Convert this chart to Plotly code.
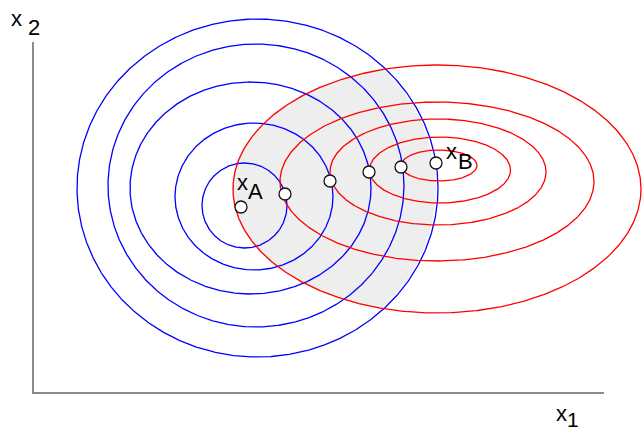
import numpy as np
import plotly.graph_objects as go

# Indifference curves of consumer A (blue): centre x, centre y, half-width, half-height
blue_cx = [211.5, 221.0, 217.5, 223.0, 224.5]
blue_cy = [187.5, 196.5, 205.0, 207.5, 205.0]
blue_rx = [42.5, 79.0, 120.5, 148.0, 180.5]
blue_ry = [42.5, 73.5, 106.0, 141.5, 169.0]

# Indifference curves of consumer B (red)
red_cx = [406.0, 407.0, 405.0, 404.0, 404.0]
red_cy = [227.5, 223.0, 221.0, 211.5, 204.0]
red_rx = [38.0, 70.5, 108.0, 157.0, 204.0]
red_ry = [15.5, 33.0, 53.0, 79.5, 124.0]

# Allocations: x_A, tangency points along the contract curve, x_B
pts_x = [208, 252, 297, 336, 368, 403]
pts_y = [186, 199, 212, 221, 226, 230]

# Axis extents
axis_x_end = 571
axis_y_end = 351

BLUE = "#0000ff"
RED = "#ff0000"
FONT = "Liberation Sans, Arial, sans-serif"


def ellipse(cx, cy, rx, ry, n=721):
    t = np.linspace(0, 2 * np.pi, n)
    return cx + rx * np.cos(t), cy + ry * np.sin(t)


def inside(x, y, cx, cy, rx, ry):
    return ((x - cx) / rx) ** 2 + ((y - cy) / ry) ** 2 <= 1.0


fig = go.Figure()

# Shaded lens: allocations preferred by both to the endowment
bx, by = ellipse(blue_cx[-1], blue_cy[-1], blue_rx[-1] - 2, blue_ry[-1] - 2)
rx_, ry_ = ellipse(red_cx[-1], red_cy[-1], red_rx[-1] + 1, red_ry[-1] + 1)
mb = inside(bx, by, red_cx[-1], red_cy[-1], red_rx[-1] + 1, red_ry[-1] + 1)
mr = inside(rx_, ry_, blue_cx[-1], blue_cy[-1], blue_rx[-1] - 2, blue_ry[-1] - 2)
lx = np.concatenate([bx[mb], rx_[mr]])
ly = np.concatenate([by[mb], ry_[mr]])
ccx, ccy = lx.mean(), ly.mean()
order = np.argsort(np.arctan2(ly - ccy, lx - ccx))
lx, ly = lx[order], ly[order]
fig.add_trace(go.Scatter(
    x=np.append(lx, lx[0]), y=np.append(ly, ly[0]), mode="lines",
    fill="toself", fillcolor="#eeeeee", line=dict(width=0),
    hoverinfo="skip", showlegend=False))

for cx, cy, a, b in zip(blue_cx, blue_cy, blue_rx, blue_ry):
    ex, ey = ellipse(cx, cy, a, b)
    fig.add_trace(go.Scatter(x=ex, y=ey, mode="lines",
                             line=dict(color=BLUE, width=1.3),
                             hoverinfo="skip", showlegend=False))

for cx, cy, a, b in zip(red_cx, red_cy, red_rx, red_ry):
    ex, ey = ellipse(cx, cy, a, b)
    fig.add_trace(go.Scatter(x=ex, y=ey, mode="lines",
                             line=dict(color=RED, width=1.3),
                             hoverinfo="skip", showlegend=False))

# Axes
fig.add_trace(go.Scatter(x=[0, 0, axis_x_end], y=[axis_y_end, 0, 0], mode="lines",
                         line=dict(color="#666666", width=1.5),
                         hoverinfo="skip", showlegend=False))

fig.add_trace(go.Scatter(x=pts_x, y=pts_y, mode="markers",
                         marker=dict(size=12, color="white",
                                     line=dict(color="#111111", width=1.3)),
                         hoverinfo="skip", showlegend=False))

labels = [
    ("x", -17, 375, "middle", 22), ("2", 1, 366, "middle", 22),
    ("x", 528, -20, "middle", 22), ("1", 540, -39, "bottom", 21),
    ("x", 209.3, 211, "middle", 22), ("A", 222.5, 202, "middle", 22),
    ("x", 418, 242, "middle", 22), ("B", 432.5, 232, "middle", 22),
]
for txt, x, y, anchor, size in labels:
    fig.add_annotation(x=x, y=y, text=txt, showarrow=False,
                       xanchor="center", yanchor=anchor, borderpad=0,
                       font=dict(family=FONT, size=size, color="black"))

fig.update_layout(
    width=643, height=432,
    margin=dict(l=0, r=0, t=0, b=0),
    paper_bgcolor="white", plot_bgcolor="white",
    xaxis=dict(range=[-33, 610], visible=False, fixedrange=True),
    yaxis=dict(range=[-39, 393], visible=False, fixedrange=True),
    showlegend=False,
)

fig.write_html("out.html")
